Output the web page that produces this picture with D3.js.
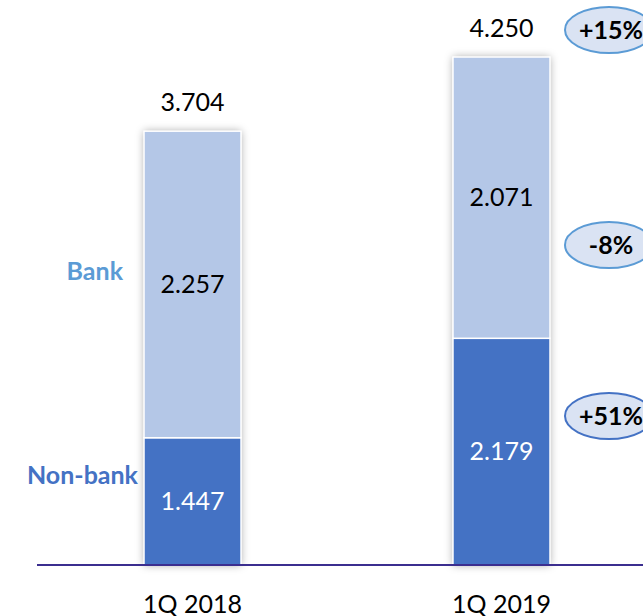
<!DOCTYPE html>
<html>
<head>
<meta charset="utf-8">
<style>
  body { margin: 0; background: #fff; }
  svg { display: block; font-family: Lato, "Open Sans", sans-serif; }
</style>
</head>
<body>
<svg id="chart" width="643" height="616"></svg>

<script src="https://cdnjs.cloudflare.com/ajax/libs/d3/7.8.5/d3.min.js"></script>
<script>
  // data
  const quarters = ["1Q 2018", "1Q 2019"];
  const nonBank = [1447, 2179];
  const bank = [2257, 2071];
  const changes = ["+15%", "-8%", "+51%"];

  const width = 643;
  const height = 616;
  const baseY = 565;
  const axisMin = 510; // the slide crops the bars, axis value at the baseline

  const svg = d3.select("#chart");

  const fmt = d3.formatLocale({ decimal: ",", thousands: ".", grouping: [3], currency: ["", ""] }).format(",d");

  const x = d3.scaleBand().domain(quarters).range([144, 550]).paddingInner(0.686).paddingOuter(0);
  const y = d3.scaleLinear().domain([axisMin, 4250]).range([baseY, 57]);

  const defs = svg.append("defs");
  const shadow = defs.append("filter").attr("id", "shadow")
    .attr("x", "-30%").attr("y", "-10%").attr("width", "160%").attr("height", "120%");
  shadow.append("feDropShadow")
    .attr("dx", 0).attr("dy", 0).attr("stdDeviation", 4)
    .attr("flood-color", "#000").attr("flood-opacity", 0.35);

  const rows = quarters.map((q, i) => ({
    q,
    segs: [
      { key: "nonbank", v0: 0, v1: nonBank[i], fill: "#4472c4", text: "#fff" },
      { key: "bank", v0: nonBank[i], v1: nonBank[i] + bank[i], fill: "#b4c7e7", text: "#000" }
    ],
    total: nonBank[i] + bank[i]
  }));

  const groups = svg.selectAll("g.bar")
    .data(rows)
    .join("g")
    .attr("class", "bar");

  // shadow behind the whole column
  groups.append("rect")
    .attr("x", d => x(d.q))
    .attr("width", x.bandwidth())
    .attr("y", d => y(d.total))
    .attr("height", d => y(axisMin) - y(d.total))
    .attr("fill", "#fff")
    .attr("filter", "url(#shadow)");

  groups.selectAll("rect.seg")
    .data(d => d.segs.map(s => Object.assign({ q: d.q }, s)))
    .join("rect")
    .attr("class", "seg")
    .attr("x", d => x(d.q))
    .attr("width", x.bandwidth())
    .attr("y", d => y(d.v1))
    .attr("height", d => y(Math.max(axisMin, d.v0)) - y(d.v1))
    .attr("fill", d => d.fill)
    .attr("stroke", "#fff")
    .attr("stroke-width", 1.5);

  groups.selectAll("text.val")
    .data(d => d.segs.map(s => Object.assign({ q: d.q }, s)))
    .join("text")
    .attr("class", "val")
    .attr("x", d => x(d.q) + x.bandwidth() / 2)
    .attr("y", d => (y(d.v1) + y(Math.max(axisMin, d.v0))) / 2)
    .attr("dy", "0.35em")
    .attr("text-anchor", "middle")
    .attr("font-size", 25)
    .attr("fill", d => d.text)
    .text(d => fmt(d.v1 - d.v0));

  groups.append("text")
    .attr("x", d => x(d.q) + x.bandwidth() / 2)
    .attr("y", d => y(d.total) - 20)
    .attr("text-anchor", "middle")
    .attr("font-size", 25)
    .attr("fill", "#000")
    .text(d => fmt(d.total));

  // baseline
  svg.append("line")
    .attr("x1", 37).attr("x2", width)
    .attr("y1", baseY).attr("y2", baseY)
    .attr("stroke", "#3b2e8f")
    .attr("stroke-width", 2);

  // category labels
  svg.selectAll("text.cat")
    .data(quarters)
    .join("text")
    .attr("class", "cat")
    .attr("x", d => x(d) + x.bandwidth() / 2)
    .attr("y", 613)
    .attr("text-anchor", "middle")
    .attr("font-size", 25)
    .attr("fill", "#000")
    .text(d => d);

  // series names
  const left0 = x(quarters[0]);
  svg.append("text")
    .attr("x", left0 - 21).attr("y", 271).attr("dy", "0.35em")
    .attr("text-anchor", "end")
    .attr("font-size", 25).attr("font-weight", "bold")
    .attr("fill", "#5b9bd5")
    .text("Bank");
  svg.append("text")
    .attr("x", left0 - 6).attr("y", 475).attr("dy", "0.35em")
    .attr("text-anchor", "end")
    .attr("font-size", 25).attr("font-weight", "bold")
    .attr("fill", "#4472c4")
    .text("Non-bank");

  // change bubbles
  const bubbleY = [30, 245, 416];
  const bubbleStroke = ["#5b9bd5", "#5b9bd5", "#4472c4"];
  const bubbles = svg.selectAll("g.bubble")
    .data(changes)
    .join("g")
    .attr("class", "bubble")
    .attr("transform", (d, i) => `translate(609,${bubbleY[i]})`);

  bubbles.append("ellipse")
    .attr("rx", 44).attr("ry", 23)
    .attr("fill", "#dae3f3")
    .attr("stroke", (d, i) => bubbleStroke[i])
    .attr("stroke-width", 2);

  bubbles.append("text")
    .attr("x", 2)
    .attr("dy", "0.35em")
    .attr("text-anchor", "middle")
    .attr("font-size", 25).attr("font-weight", "bold")
    .attr("fill", "#000")
    .text(d => d);
</script>
</body>
</html>
